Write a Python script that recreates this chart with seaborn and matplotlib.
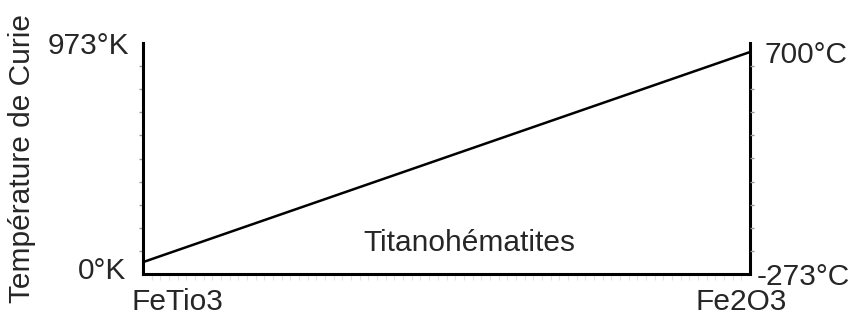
import matplotlib
matplotlib.use("Agg")
import matplotlib.pyplot as plt
from matplotlib.transforms import ScaledTranslation
import seaborn as sns
import numpy as np
import pandas as pd

# données
composition = [0.0, 1.0]          # FeTiO3 -> Fe2O3
curie_K = [50, 935]               # température de Curie (K)
x_labels = ["FeTio3", "Fe2O3"]
yK_ticks = [0, 973]
yK_labels = ["0°K", "973°K"]
yC_ticks = [-273, 700]
yC_labels = ["-273°C", "700°C"]

sns.set_style("white")
plt.rcParams["font.family"] = ["Liberation Sans", "DejaVu Sans"]
txt = "#262626"
fs = 21.5

fig = plt.figure(figsize=(8.61, 3.22), dpi=100)
ax = fig.add_axes([143 / 861, 48 / 322, 607 / 861, 231 / 322])

df = pd.DataFrame({"x": composition, "T": curie_K})
sns.lineplot(data=df, x="x", y="T", ax=ax, color="black", linewidth=1.8)

ax.set_xlim(0, 1)
ax.set_ylim(0, 973)
ax.set_xlabel("")
ax.set_ylabel("Température de Curie", fontsize=fs, color=txt)
ax.yaxis.set_label_coords(-0.176, 0.5)

for s in ["left", "bottom", "right"]:
    ax.spines[s].set_visible(True)
    ax.spines[s].set_color("black")
    ax.spines[s].set_linewidth(2.2)
ax.spines["top"].set_visible(False)

ax.set_yticks(yK_ticks)
ax.set_yticklabels(yK_labels, fontsize=fs, color=txt)
ax.set_yticks(np.linspace(0, 973, 11), minor=True)
ax.set_xticks(composition)
ax.set_xticklabels(x_labels, fontsize=fs, color=txt)
ax.set_xticks(np.linspace(0, 1, 71), minor=True)
ax.tick_params(axis="both", which="major", length=0, pad=10)
ax.tick_params(axis="y", which="minor", left=True, length=3, width=1, color="#999999")
ax.tick_params(axis="x", which="minor", bottom=True, length=4, width=0.8, color="#e2e2e2")


def shift(label, dx, dy):
    label.set_transform(label.get_transform() + ScaledTranslation(dx / 100, dy / 100, fig.dpi_scale_trans))


xl = ax.get_xticklabels()
xl[0].set_horizontalalignment("left")
shift(xl[0], -11, 0)
shift(xl[1], -9, 0)
yl = ax.get_yticklabels()
shift(yl[0], -3, 6)

ax2 = ax.twinx()
ax2.set_ylim(-273, 700)
ax2.set_yticks(yC_ticks)
ax2.set_yticklabels(yC_labels, fontsize=fs, color=txt)
ax2.set_yticks(np.linspace(-273, 700, 11), minor=True)
ax2.tick_params(axis="y", which="major", length=0, pad=5)
ax2.tick_params(axis="y", which="minor", right=True, length=3, width=1, color="#999999")
for s in ["left", "bottom", "top", "right"]:
    ax2.spines[s].set_visible(False)
cl = ax2.get_yticklabels()
shift(cl[1], 8, -9)

ax.text(0.538, 0.135, "Titanohématites", transform=ax.transAxes,
        ha="center", va="center", fontsize=fs, color=txt)

fig.savefig("out.png", dpi=100)
